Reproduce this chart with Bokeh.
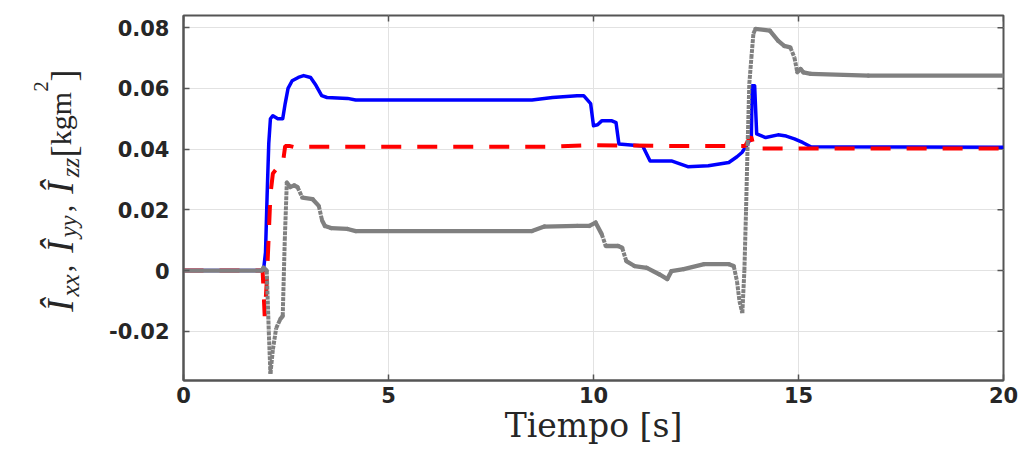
import math
import numpy as np
from bokeh.plotting import figure
from bokeh.layouts import row
from bokeh.models import FixedTicker, Range1d, ColumnDataSource
from bokeh.core.properties import value
from bokeh.embed import file_html
from bokeh.resources import INLINE

# ---------------- data ----------------
x_ticks = [0, 5, 10, 15, 20]
x_tick_labels = ["0", "5", "10", "15", "20"]
y_ticks = [-0.02, 0.0, 0.02, 0.04, 0.06, 0.08]
y_tick_labels = ["-0.02", "0", "0.02", "0.04", "0.06", "0.08"]

x_label = "Tiempo [s]"

# I_xx estimate (blue, solid)
t_xx = [0, 1.95, 2.00, 2.04, 2.08, 2.12, 2.18, 2.30, 2.42, 2.48, 2.55, 2.65, 2.80, 2.93,
        3.10, 3.23, 3.37, 3.50, 4.00, 4.20, 8.50, 9.00, 9.60, 9.76, 9.93, 10.00, 10.10,
        10.20, 10.45, 10.55, 10.62, 11.20, 11.38, 11.90, 12.30, 12.80, 13.30, 13.50,
        13.62, 13.76, 13.85, 13.87, 13.93, 13.98, 14.20, 14.50, 14.70, 14.90, 15.10,
        15.30, 20.0]
I_xx = [0, 0, 0.006, 0.025, 0.042, 0.050, 0.051, 0.050, 0.050, 0.055, 0.060, 0.0625,
        0.0636, 0.0642, 0.0636, 0.061, 0.0576, 0.057, 0.0567, 0.0562, 0.0562, 0.0570,
        0.0576, 0.0576, 0.0550, 0.0477, 0.0480, 0.0493, 0.0493, 0.0487, 0.0417, 0.0410,
        0.0361, 0.0361, 0.0342, 0.0345, 0.0356, 0.0375, 0.0389, 0.0417, 0.0440, 0.0609,
        0.0609, 0.0450, 0.0438, 0.0447, 0.0443, 0.0434, 0.0422, 0.0408, 0.0406]

# I_yy estimate (red, dashed)
t_yy = [0, 1.93, 1.98, 2.03, 2.08, 2.12, 2.18, 2.30, 2.42, 2.48, 2.60, 2.75, 3.00, 9.00,
        10.0, 12.0, 13.70, 13.78, 13.85, 13.92, 14.00, 20.0]
I_yy = [0, 0, -0.015, -0.004, 0.012, 0.025, 0.032, 0.034, 0.035, 0.041, 0.041, 0.0405,
        0.0408, 0.0408, 0.0413, 0.041, 0.041, 0.043, 0.044, 0.040, 0.0402, 0.0402]

# I_zz estimate (gray, dotted)
t_zz = [0, 1.92, 1.95, 2.03, 2.08, 2.12, 2.18, 2.26, 2.36, 2.42, 2.47, 2.52, 2.60, 2.70,
        2.78, 2.90, 3.15, 3.30, 3.38, 3.45, 3.60, 4.00, 4.20, 8.50, 8.80, 9.60, 9.90,
        10.05, 10.20, 10.30, 10.60, 10.70, 10.80, 11.00, 11.30, 11.60, 11.80, 11.90,
        12.20, 12.70, 13.30, 13.42, 13.50, 13.56, 13.63, 13.68, 13.72, 13.76, 13.80,
        13.85, 13.90, 13.95, 14.30, 14.50, 14.65, 14.80, 14.90, 14.97, 15.05, 15.12,
        15.30, 16.70, 20.0]
I_zz = [0, 0, 0.001, 0, -0.020, -0.034, -0.026, -0.019, -0.016, -0.015, 0.010, 0.029,
        0.0275, 0.028, 0.0275, 0.024, 0.0235, 0.0213, 0.0165, 0.0147, 0.014, 0.0137,
        0.013, 0.013, 0.0145, 0.0147, 0.0147, 0.0158, 0.0120, 0.0081, 0.0081, 0.0075,
        0.0031, 0.0015, 0.0009, -0.0012, -0.0028, -0.0002, 0.0005, 0.0021, 0.0021,
        0.0015, -0.0035, -0.0100, -0.0140, 0.0000, 0.0196, 0.0417, 0.0615, 0.0700,
        0.0780, 0.0796, 0.0790, 0.0757, 0.0740, 0.0735, 0.0702, 0.0653, 0.0664, 0.0653,
        0.0648, 0.0642, 0.0642]

# ---------------- layout constants ----------------
LW = 90                    # width of the y-label strip
X0, X1 = 0, 20
Y0, Y1 = -0.0362, 0.084
W, H = 1026 - LW, 450
BL, BR, BT, BB = 183 - LW, 23, 15, 70
TXT = "#262626"
AX = "#555555"

# ---------------- y-label strip (frame uses page pixel coordinates) ----------------
q = figure(width=LW, height=H, x_range=Range1d(0, LW), y_range=Range1d(H - BB, BT),
           output_backend="svg", toolbar_location=None,
           min_border_left=0, min_border_right=0, min_border_top=BT, min_border_bottom=BB)
q.axis.visible = False
q.grid.visible = False
q.outline_line_color = None
q.background_fill_color = "white"
q.border_fill_color = "white"

# (text, page center y, page baseline x, size, style)
ylabel_pieces = [
    ("Î", 305, 60, "37px", "italic"),
    ("xx", 285, 70, "25px", "italic"),
    (",", 268, 62, "30px", "normal"),
    ("Î", 246, 60, "37px", "italic"),
    ("yy", 226, 68, "25px", "italic"),
    (",", 208, 62, "30px", "normal"),
    ("Î", 187, 60, "37px", "italic"),
    ("zz", 167, 70, "25px", "italic"),
    ("[", 151, 63, "36px", "normal"),
    ("kgm", 118, 60, "30px", "normal"),
    ("2", 86, 40, "21px", "normal"),
    ("]", 75, 63, "36px", "normal"),
]
for txt, cy, bx, fs, st in ylabel_pieces:
    q.text(x=[bx], y=[cy], text=[txt], angle=math.pi / 2, text_align="center",
           text_baseline="alphabetic", text_font=value("Liberation Serif"),
           text_font_size=value(fs), text_font_style=st, text_color=TXT)

# ---------------- main figure ----------------
p = figure(width=W, height=H, x_range=Range1d(X0, X1), y_range=Range1d(Y0, Y1),
           output_backend="svg", toolbar_location=None,
           min_border_left=BL, min_border_right=BR, min_border_top=BT, min_border_bottom=BB)
p.background_fill_color = "white"
p.border_fill_color = "white"
p.outline_line_color = AX
p.outline_line_width = 2

for ax in (p.xaxis[0], p.yaxis[0]):
    ax.major_tick_in = 6
    ax.major_tick_out = 0
    ax.minor_tick_line_color = None
    ax.axis_line_color = AX
    ax.axis_line_width = 2
    ax.major_tick_line_color = AX
    ax.major_tick_line_width = 1.5
    ax.major_label_text_font = "DejaVu Sans"
    ax.major_label_text_font_style = "bold"
    ax.major_label_text_font_size = "21px"
    ax.major_label_text_color = TXT

p.xaxis[0].ticker = FixedTicker(ticks=x_ticks)
p.xaxis[0].major_label_overrides = dict(zip(x_ticks, x_tick_labels))
p.xaxis[0].major_label_standoff = 6
p.xaxis[0].axis_label = x_label
p.xaxis[0].axis_label_text_font = "DejaVu Serif"
p.xaxis[0].axis_label_text_font_style = "normal"
p.xaxis[0].axis_label_text_font_size = "33px"
p.xaxis[0].axis_label_text_color = TXT
p.xaxis[0].axis_label_standoff = 0

p.yaxis[0].ticker = FixedTicker(ticks=y_ticks)
p.yaxis[0].major_label_overrides = dict(zip(y_ticks, y_tick_labels))
p.yaxis[0].major_label_standoff = 14

p.xgrid.ticker = FixedTicker(ticks=x_ticks)
p.ygrid.ticker = FixedTicker(ticks=y_ticks)
for g in (p.xgrid[0], p.ygrid[0]):
    g.grid_line_color = "#e2e2e2"
    g.grid_line_width = 1

px_x = (W - BL - BR) / (X1 - X0)
px_y = (H - BT - BB) / (Y1 - Y0)

# inward ticks on the top and right edges of the box (from the tick lists)
TICK = 6
p.segment(x0=x_ticks, y0=[Y1] * len(x_ticks), x1=x_ticks, y1=[Y1 - TICK / px_y] * len(x_ticks),
          line_color=AX, line_width=1.5)
p.segment(x0=[X1] * len(y_ticks), y0=y_ticks, x1=[X1 - TICK / px_x] * len(y_ticks), y1=y_ticks,
          line_color=AX, line_width=1.5)

# ---------------- series ----------------
p.line(t_xx, I_xx, line_color="#0000ff", line_width=3.5, line_join="round")
p.line(t_yy, I_yy, line_color="#ff0000", line_width=4, line_dash="20 16")

# gray dotted: dotted look where the curve is steep, dense (solid look) elsewhere
tz = np.array(t_zz, dtype=float)
vz = np.array(I_zz, dtype=float)
dxp = np.abs(np.diff(tz)) * px_x
dyp = np.abs(np.diff(vz)) * px_y
steep = dyp > 2 * dxp
seg_steep = ColumnDataSource(dict(x0=tz[:-1][steep], y0=vz[:-1][steep], x1=tz[1:][steep], y1=vz[1:][steep]))
seg_flat = ColumnDataSource(dict(x0=tz[:-1][~steep], y0=vz[:-1][~steep], x1=tz[1:][~steep], y1=vz[1:][~steep]))
p.segment("x0", "y0", "x1", "y1", source=seg_steep, line_color="#808080", line_width=4,
          line_dash=value("4 1"), line_cap="butt")
p.segment("x0", "y0", "x1", "y1", source=seg_flat, line_color="#808080", line_width=4.3,
          line_cap="round")

layout = row(q, p, spacing=0)
open("out.html", "w").write(file_html(layout, INLINE))
